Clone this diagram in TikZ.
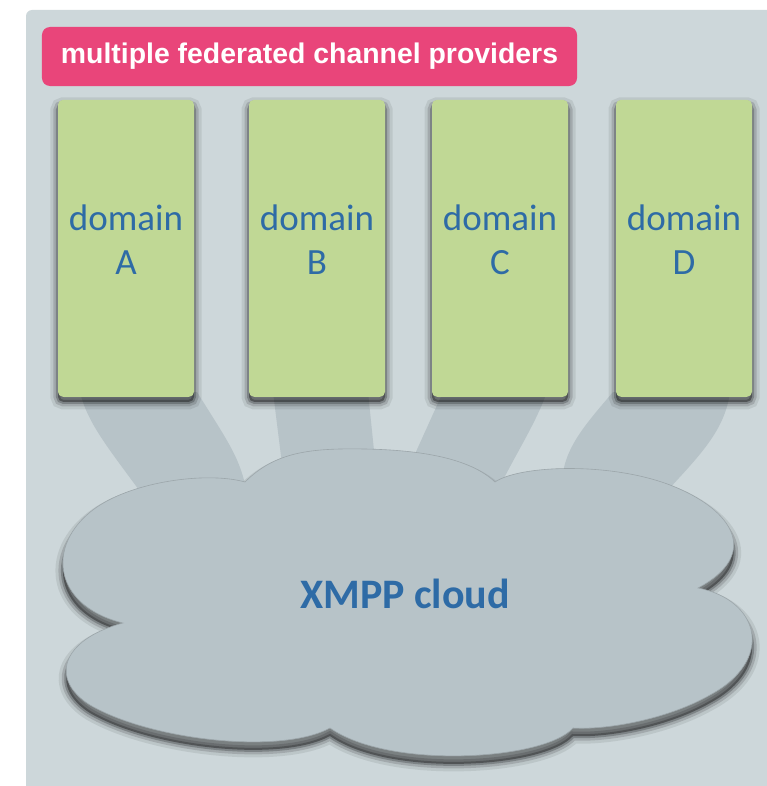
\documentclass[tikz,border=0pt]{standalone}
\usepackage{fontspec}
\setmainfont{Carlito}
\newfontfamily\bannerfont{Liberation Sans}
\usetikzlibrary{calc}
\definecolor{panelgray}{HTML}{CDD7DA}
\definecolor{bannerpink}{HTML}{E9457A}
\definecolor{domaingreen}{HTML}{C0D895}
\definecolor{cloudgray}{HTML}{B7C3C8}
\definecolor{textblue}{HTML}{2E6BA6}
\tikzset{
    soft shadow/.style={
        preaction={fill=black, opacity=.35, transform canvas={yshift=-#1}},
        preaction={draw=black, opacity=.22, line width=4bp, transform canvas={yshift=-#1}},
        preaction={draw=black, opacity=.14, line width=9bp, transform canvas={yshift=-#1}},
        preaction={draw=black, opacity=.08, line width=15bp, transform canvas={yshift=-#1}}},
    soft shadow/.default=5bp,
    banner/.style={fill=bannerpink, rounded corners=8bp, minimum width=535bp,
        minimum height=59bp, inner sep=0pt, text=white,
        font=\bannerfont\bfseries\fontsize{28.4bp}{30bp}\selectfont},
    domain box/.style={fill=domaingreen, rounded corners=5bp, minimum width=136bp,
        minimum height=297bp, inner sep=0pt, soft shadow},
    domain text/.style={align=center, text=textblue, inner sep=0pt,
        font=\fontsize{37bp}{44bp}\selectfont},
    band/.style={fill=cloudgray},
    cloud text/.style={text=textblue, font=\bfseries\fontsize{42bp}{44bp}\selectfont},
}

\begin{document}
\begin{tikzpicture}[x=1bp,y=-1bp]
    \useasboundingbox (0,0) rectangle (767,786);
    \fill[panelgray, rounded corners=6bp] (26,10) rectangle (800,820);

    % bottom centres of the domain boxes
    \foreach \d/\x in {A/126,B/317,C/500,D/684}
        \coordinate (base\d) at (\x,397);

    % feet of the bands on the cloud
    \coordinate (footA1) at (150,505);
    \coordinate (footA2) at (248,500);
    \coordinate (footB1) at (284,480);
    \coordinate (footB2) at (376,470);
    \coordinate (footC1) at (410,465);
    \coordinate (footC2) at (498,490);
    \coordinate (footD1) at (562,485);
    \coordinate (footD2) at (668,490);

    \fill[band] ($(baseA)+(-46,-5)$) .. controls (88,425) and (110,450) .. (footA1)
        -- (footA2) .. controls (242,460) and (230,445) .. ($(baseA)+(71,-5)$) -- cycle;
    \fill[band] ($(baseB)+(-44,-5)$) -- (footB1) -- (footB2)
        -- ($(baseB)+(51,-5)$) -- cycle;
    \fill[band] ($(baseC)+(-57,-5)$) -- (footC1) -- (footC2)
        .. controls (515,455) and (535,425) .. ($(baseC)+(47,-5)$) -- cycle;
    \fill[band] ($(baseD)+(-71,-5)$) .. controls (585,425) and (562,450) .. (footD1)
        -- (footD2) .. controls (700,455) and (725,430) .. ($(baseD)+(46,-5)$) -- cycle;

    % the cloud
    \path[fill=cloudgray, draw=cloudgray!85!black, line width=.6bp, soft shadow=8bp]
        (245,482) .. controls (275,452) and (310,448) .. (365,449)
        .. controls (420,450) and (470,458) .. (495,482)
        .. controls (520,465) and (610,462) .. (670,485)
        .. controls (735,510) and (760,555) .. (698,588)
        .. controls (760,600) and (775,660) .. (710,695)
        .. controls (670,718) and (610,730) .. (573,728)
        .. controls (545,760) and (390,770) .. (330,728)
        .. controls (280,755) and (150,740) .. (90,705)
        .. controls (50,680) and (60,640) .. (123,623)
        .. controls (50,605) and (45,540) .. (100,505)
        .. controls (140,480) and (210,472) .. (245,482) -- cycle;
    \node[cloud text] (xmpp) at (405,594) {XMPP cloud};

    % domain boxes
    \foreach \d in {A,B,C,D}{
        \node[domain box, anchor=south] (dom\d) at (base\d) {};
        \node[domain text] (lab\d) at ($(dom\d.center)+(0,-9)$) {domain\\\d};
    }

    \node[banner] (providers) at (309.5,56.5) {multiple federated channel providers};
\end{tikzpicture}
\end{document}
